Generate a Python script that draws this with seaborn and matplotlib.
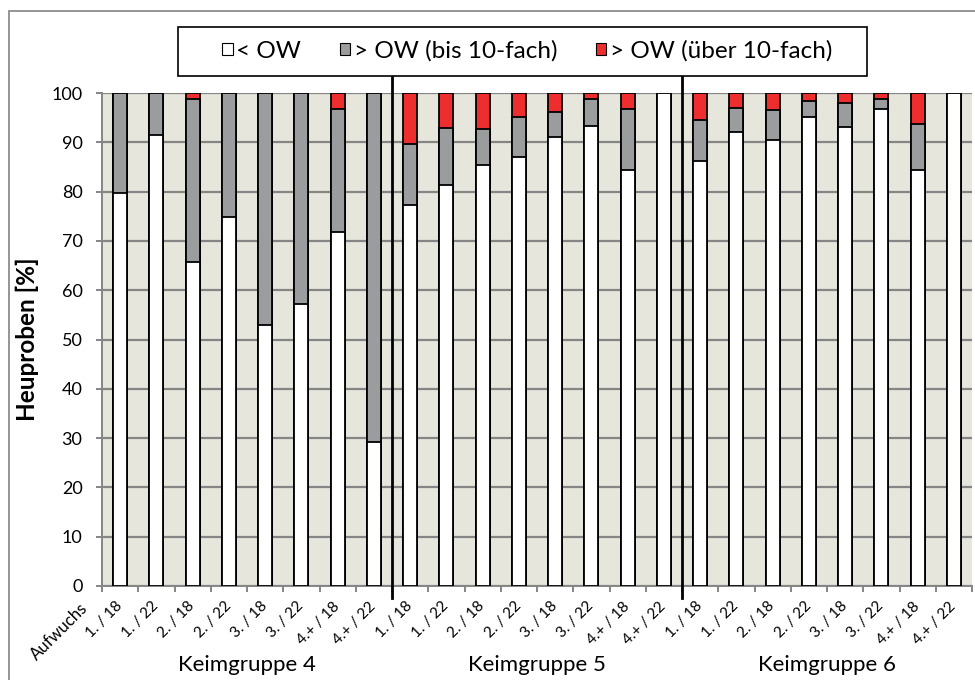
import matplotlib
matplotlib.use("Agg")
import matplotlib.pyplot as plt
import matplotlib.transforms as mtransforms
from matplotlib.patches import Patch, Rectangle
import numpy as np
import pandas as pd
import seaborn as sns

# categories: Aufwuchs / Jahr, per Keimgruppe
groups = ["Keimgruppe 4", "Keimgruppe 5", "Keimgruppe 6"]
cut_labels = ["1. / 18", "1. / 22", "2. / 18", "2. / 22", "3. / 18", "3. / 22", "4.+ / 18", "4.+ / 22"]

# share of hay samples [%]
unter_ow = [79.8, 91.5, 65.8, 74.8, 52.9, 57.2, 71.8, 29.2,
            77.2, 81.3, 85.3, 87.0, 91.1, 93.4, 84.4, 100.0,
            86.3, 92.0, 90.4, 95.1, 93.1, 96.8, 84.4, 100.0]
bis_10fach = [20.2, 8.5, 33.0, 25.2, 47.1, 42.8, 25.0, 70.8,
              12.5, 11.7, 7.3, 8.1, 5.0, 5.4, 12.4, 0.0,
              8.3, 5.0, 6.2, 3.3, 4.9, 2.0, 9.4, 0.0]
ueber_10fach = [0.0, 0.0, 1.2, 0.0, 0.0, 0.0, 3.2, 0.0,
                10.3, 7.0, 7.4, 4.9, 3.9, 1.2, 3.2, 0.0,
                5.4, 3.0, 3.4, 1.6, 2.0, 1.2, 6.2, 0.0]

series_names = ["< OW", "> OW (bis 10-fach)", "> OW (über 10-fach)"]
series_colors = ["#FFFFFF", "#9A9C9E", "#EE2D2E"]
BG_COLOR = "#E6E6DC"
GRID_COLOR = "#858585"

plt.rcParams["font.family"] = ["Lato", "DejaVu Sans"]

df = pd.DataFrame({
    "gruppe": np.repeat(groups, len(cut_labels)),
    "label": cut_labels * len(groups),
    "unter": unter_ow,
    "bis10": bis_10fach,
    "ueber10": ueber_10fach,
})
df["key"] = df["gruppe"] + " " + df["label"]
df["cum1"] = df["unter"]
df["cum2"] = df["unter"] + df["bis10"]
df["cum3"] = df["cum2"] + df["ueber10"]
order = list(df["key"])

fig = plt.figure(figsize=(9.75, 6.8), dpi=100)
ax = fig.add_axes([102 / 975, 1 - 586 / 680, 870 / 975, 493 / 680])
ax.set_facecolor(BG_COLOR)

# stacked bars drawn as overlapping cumulative layers (top layer first)
for col, color in zip(["cum3", "cum2", "cum1"], series_colors[::-1]):
    sns.barplot(data=df, x="key", y=col, order=order, color=color, saturation=1,
                width=0.39, edgecolor="black", linewidth=1.3, ax=ax, zorder=3)

ax.set_xlim(-0.5, len(order) - 0.5)
ax.set_ylim(0, 100)
ax.set_yticks(range(0, 101, 10))
ax.yaxis.grid(True, color=GRID_COLOR, linewidth=1.6, zorder=0)
ax.set_axisbelow(True)
for side in ["top", "right"]:
    ax.spines[side].set_visible(False)
for side in ["left", "bottom"]:
    ax.spines[side].set_color(GRID_COLOR)
    ax.spines[side].set_linewidth(1.4)

ax.set_xticks(range(len(order)))
ax.set_xticklabels(df["label"], rotation=45, ha="right", rotation_mode="anchor",
                   va="center", fontsize=11)
ax.set_xticks(np.arange(-0.5, len(order), 1), minor=True)
ax.tick_params(axis="x", which="major", length=0, pad=13)
ax.tick_params(axis="x", which="minor", length=4, width=1.4, color=GRID_COLOR)
ax.tick_params(axis="y", length=4, width=1.4, color=GRID_COLOR, labelsize=13, pad=10)
ax.set_xlabel("")
ax.set_ylabel("Heuproben [%]", fontsize=17.5, fontweight="bold", labelpad=9)

trans = mtransforms.blended_transform_factory(ax.transData, ax.transAxes)
ax.text(-0.95, -0.039, "Aufwuchs", transform=trans, rotation=45, ha="right",
        va="center", rotation_mode="anchor", fontsize=12)

# separators between Keimgruppen
for xpos in [7.5, 15.5]:
    ax.plot([xpos, xpos], [-2.4, 103.3], color="black", linewidth=2, clip_on=False, zorder=5)

for i, g in enumerate(groups):
    ax.text(i * 8 + 3.5, -0.16, g, transform=trans, ha="center", va="center", fontsize=16)

handles = [Patch(facecolor=c, edgecolor="black", linewidth=0.8) for c in series_colors]
fig.legend(handles, series_names, loc="center", bbox_to_anchor=(0.541, 1 - 51 / 680),
           ncol=3, frameon=False, fontsize=17.5, handlelength=0.42, handleheight=0.42,
           handletextpad=0.15, columnspacing=1.6)
fig.add_artist(Rectangle((178 / 975, 1 - 76 / 680), 689 / 975, 49 / 680,
                         transform=fig.transFigure, fill=False, edgecolor="black", linewidth=1.2))

# chart frame
fig.add_artist(Rectangle((9 / 975, -0.5), 1.5, 1.5 - 11 / 680,
                         transform=fig.transFigure, fill=False, edgecolor="#8C8C8C", linewidth=1.3))

fig.savefig("out.png", dpi=100)
